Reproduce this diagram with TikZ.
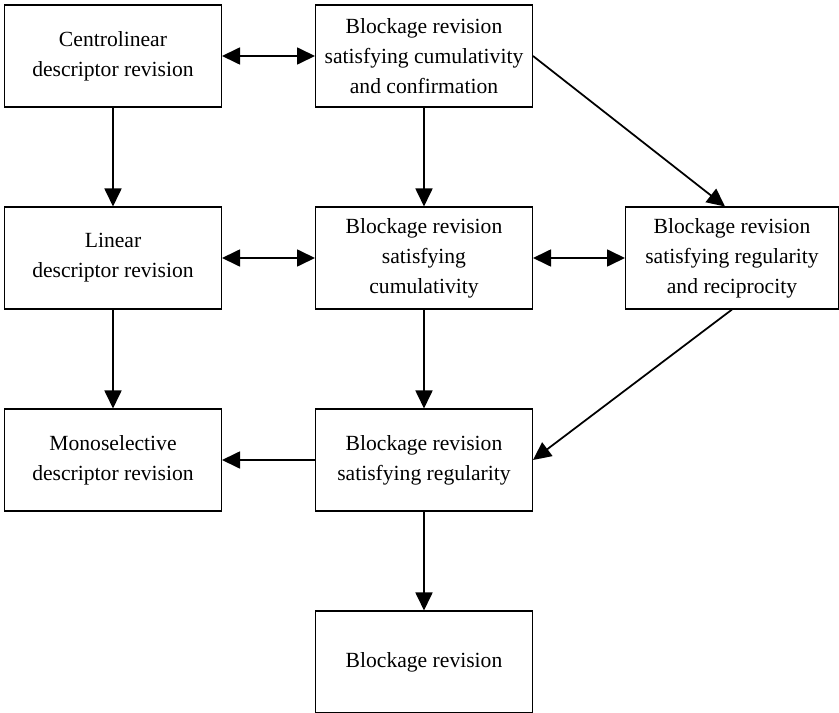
\documentclass[tikz,border=0pt]{standalone}
\usepackage{fontspec}
\setmainfont{Liberation Serif}
\usetikzlibrary{arrows.meta}

\begin{document}
\begin{tikzpicture}[x=0.02cm,y=-0.02cm,
	every node/.style={font=\fontsize{12.3}{17}\selectfont},
	box/.style={draw,line width=0.6pt,align=center,inner sep=0pt,minimum width=4.34cm,minimum height=2.04cm},
	link/.style={line width=1pt,-{Triangle[length=0.36cm,width=0.34cm]}},
	twoway/.style={line width=1pt,{Triangle[length=0.36cm,width=0.34cm]}-{Triangle[length=0.36cm,width=0.34cm]}}]
			\useasboundingbox (0,0) rectangle (839,713);
			\node[box] (cen) at (113,56) {Centrolinear\\descriptor revision};
			\node[box] (bcc) at (424,56) {Blockage revision\\satisfying cumulativity\\and confirmation};
			\node[box] (lin) at (113,258) {Linear\\descriptor revision};
			\node[box] (bcum) at (424,258) {Blockage revision\\satisfying\\cumulativity};
			\node[box,minimum width=4.26cm] (brr) at (732,258) {Blockage revision\\satisfying regularity\\and reciprocity};
			\node[box] (mono) at (113,460) {Monoselective\\descriptor revision};
			\node[box] (breg) at (424,460) {Blockage revision\\satisfying regularity};
			\node[box] (blk) at (424,662) {Blockage revision};

			\path[twoway] (cen) edge (bcc)
						 (lin) edge (bcum)
						 (bcum) edge (brr);
			\path[link] (cen) edge (lin)
						 (lin) edge (mono)
						 (bcc) edge (bcum)
						 (bcum) edge (breg)
						 (breg) edge (blk)
						 (breg) edge (mono)
						 (bcc.east) edge ([xshift=-0.14cm]brr.north)
						 (brr.south) edge (breg.east);
		\end{tikzpicture}
\end{document}
